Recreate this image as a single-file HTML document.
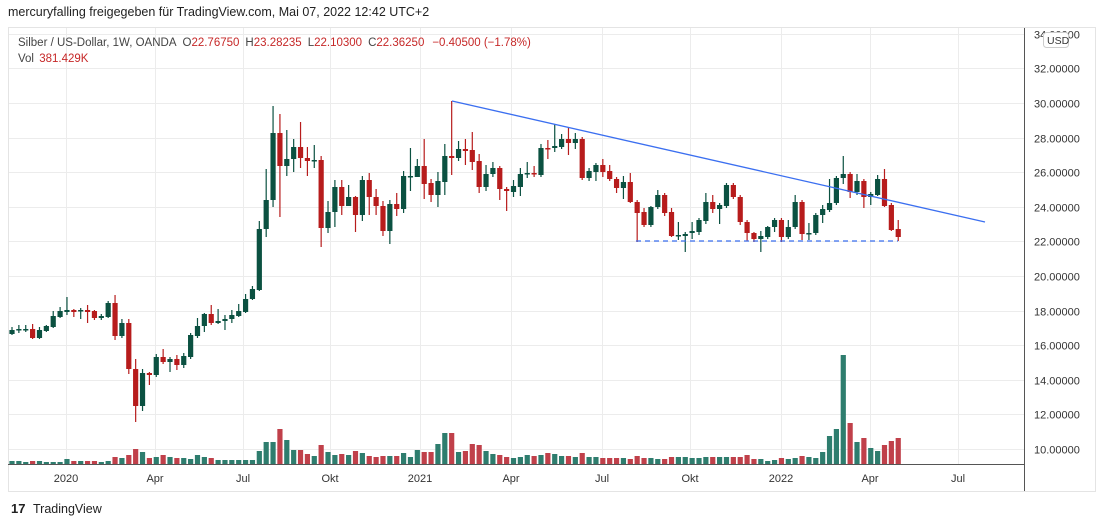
<!DOCTYPE html>
<html><head><meta charset="utf-8"><style>
body{margin:0;background:#fff;width:1100px;height:527px;overflow:hidden;font-family:"Liberation Sans",sans-serif;}
</style></head><body>
<svg id="s" width="1100" height="527" xmlns="http://www.w3.org/2000/svg" font-family="Liberation Sans, sans-serif">
<rect width="1100" height="527" fill="#fff"/>
<text x="8" y="16" font-size="12.5" fill="#222">mercuryfalling freigegeben für TradingView.com, Mai 07, 2022 12:42 UTC+2</text>
<rect x="8.5" y="27.5" width="1087" height="464" fill="none" stroke="#e4e4e4"/>
<g id="grid"></g>
<g id="vol"></g>
<g id="cdl"></g>
<line x1="452" y1="101" x2="985" y2="222" stroke="#3b6ff0" stroke-width="1.3"/>
<line x1="636" y1="241" x2="898" y2="241" stroke="#3b6ff0" stroke-width="1.3" stroke-dasharray="5,4"/>
<line x1="8" y1="464.5" x2="1025" y2="464.5" stroke="#555" stroke-width="1"/>
<line x1="1024.5" y1="28" x2="1024.5" y2="491" stroke="#555" stroke-width="1"/>
<g id="lab" font-size="11" fill="#333"></g>
<rect x="1043.5" y="32.5" width="25" height="15" rx="3" fill="#fff" stroke="#ccc"/>
<text x="1047" y="44" font-size="10.5" fill="#333">USD</text>
<text x="18" y="46" font-size="11.5" fill="#444">Silber / US-Dollar, 1W, OANDA<tspan dx="6">O</tspan><tspan fill="#c62828">22.76750</tspan><tspan dx="6">H</tspan><tspan fill="#c62828">23.28235</tspan><tspan dx="6">L</tspan><tspan fill="#c62828">22.10300</tspan><tspan dx="6">C</tspan><tspan fill="#c62828">22.36250</tspan><tspan dx="8" fill="#c62828">−0.40500 (−1.78%)</tspan></text>
<text x="18" y="62" font-size="11.5" fill="#444">Vol <tspan dx="2" fill="#c62828">381.429K</tspan></text>
<text x="11" y="513" font-size="13" font-weight="bold" fill="#222">17</text>
<text x="33" y="513" font-size="12.5" fill="#222">TradingView</text>
</svg>
<script>
const NS="http://www.w3.org/2000/svg";
function el(p,t,a,txt){const e=document.createElementNS(NS,t);for(const k in a)e.setAttribute(k,a[k]);if(txt)e.textContent=txt;document.getElementById(p).appendChild(e);return e;}
const ticks=[34,32,30,28,26,24,22,20,18,16,14,12,10];
ticks.forEach(p=>{const y=Math.round(449-(p-10)*17.3)+0.5;el('grid','line',{x1:9,x2:1024,y1:y,y2:y,stroke:'#ececec'});
 el('lab','text',{x:1034,y:y+4},p.toFixed(5));});
const mx=[[66,'2020'],[155,'Apr'],[243,'Jul'],[330,'Okt'],[420,'2021'],[511,'Apr'],[602,'Jul'],[690,'Okt'],[781,'2022'],[870,'Apr'],[958,'Jul']];
mx.forEach(m=>{el('grid','line',{x1:m[0]+.5,x2:m[0]+.5,y1:28,y2:464,stroke:'#ececec'});
 el('lab','text',{x:m[0],y:482,'text-anchor':'middle'},m[1]);});
const C=[[334,330,327,335],[330,329,325,333],[329,329,325,332],[329,338,324,339],[338,330,327,339],[331,326,325,332],[327,316,311,328],[317,311,307,318],[312,310,297,315],[310,312,309,317],[311,310,308,319],[310,312,305,323],[311,318,310,320],[318,316,314,320],[317,303,301,318],[303,336,295,340],[336,323,319,338],[323,369,319,374],[369,406,359,422],[406,373,369,411],[373,375,372,385],[375,357,354,377],[357,362,349,364],[362,359,357,372],[359,365,355,370],[365,356,353,368],[357,335,333,359],[336,326,318,338],[326,314,313,332],[314,323,305,325],[323,321,309,324],[321,319,315,330],[319,315,310,323],[316,311,304,317],[312,299,294,313],[299,289,286,300],[290,229,221,291],[229,200,169,237],[200,133,106,207],[133,166,114,217],[166,159,130,176],[159,147,139,172],[147,158,122,168],[158,161,147,176],[161,160,145,168],[160,228,156,247],[228,212,201,233],[212,187,180,227],[187,206,180,215],[206,197,185,206],[197,215,196,232],[215,180,176,221],[180,197,173,215],[197,206,189,215],[206,231,201,236],[231,204,200,244],[204,209,193,216],[209,176,171,213],[177,176,148,191],[177,166,159,177],[166,184,139,199],[183,195,179,202],[195,181,172,207],[182,156,144,195],[156,158,101,175],[158,149,141,161],[149,151,139,165],[150,162,132,170],[161,187,154,193],[187,174,165,191],[174,168,162,177],[168,189,166,200],[189,191,187,211],[192,186,180,197],[187,174,168,196],[174,173,162,178],[173,174,166,177],[175,148,144,177],[148,149,140,159],[148,146,124,152],[147,139,134,149],[139,143,128,155],[143,139,133,149],[139,178,137,180],[178,171,168,181],[172,165,163,181],[165,172,159,177],[171,179,165,181],[179,188,177,193],[188,182,176,199],[182,202,173,203],[202,213,200,242],[212,225,208,227],[225,207,206,227],[207,195,190,209],[195,213,193,216],[212,236,208,237],[235,235,222,240],[236,234,232,252],[233,231,222,239],[232,220,218,235],[221,202,193,224],[202,209,195,213],[209,205,203,224],[206,185,183,208],[185,197,183,199],[197,222,195,225],[222,233,220,241],[233,239,232,242],[239,236,231,252],[237,227,226,239],[227,220,218,232],[220,237,218,242],[237,227,220,239],[227,202,195,229],[202,234,200,240],[234,233,223,240],[233,215,213,235],[215,209,205,223],[210,203,179,212],[203,178,176,205],[178,174,156,184],[174,192,172,198],[192,181,174,195],[181,197,179,208],[197,194,192,205],[195,179,175,196],[179,206,169,207],[205,230,203,231],[229,237,220,241]];
const V=[461,461,462,461,461,462,462,462,459,461,461,461,461,462,461,457,458,455,449,452,458,457,455,457,458,458,459,455,457,458,460,460,460,460,460,460,451,442,442,429,440,450,450,454,456,445,452,455,454,455,451,453,456,457,456,456,456,453,457,450,452,452,444,433,
433,452,451,444,445,451,454,455,457,458,457,455,456,455,453,454,456,456,457,453,457,457,458,458,458,458,459,456,458,458,459,459,457,457,457,458,458,457,457,457,457,457,457,455,459,459,461,460,458,459,458,456,457,458,452,436,429,355,423,442,438,448,451,445,441,438];
C.forEach((c,i)=>{const x=12+i*6.87;const up=c[1]<=c[0];const col=up?'#0b5141':'#b71c1c';
 const v=V[i]||460;el('vol','rect',{x:(x-2.6).toFixed(2),y:v,width:5.2,height:464-v,fill:up?'#2e7d6e':'#c0404a'});
 el('cdl','line',{x1:x.toFixed(2),x2:x.toFixed(2),y1:c[2],y2:c[3],stroke:col,'stroke-width':1.2});
 const t=Math.min(c[0],c[1]),h=Math.max(1.5,Math.abs(c[1]-c[0]));
 el('cdl','rect',{x:(x-2.6).toFixed(2),y:t,width:5.2,height:h,fill:col});});
</script>
</body></html>
